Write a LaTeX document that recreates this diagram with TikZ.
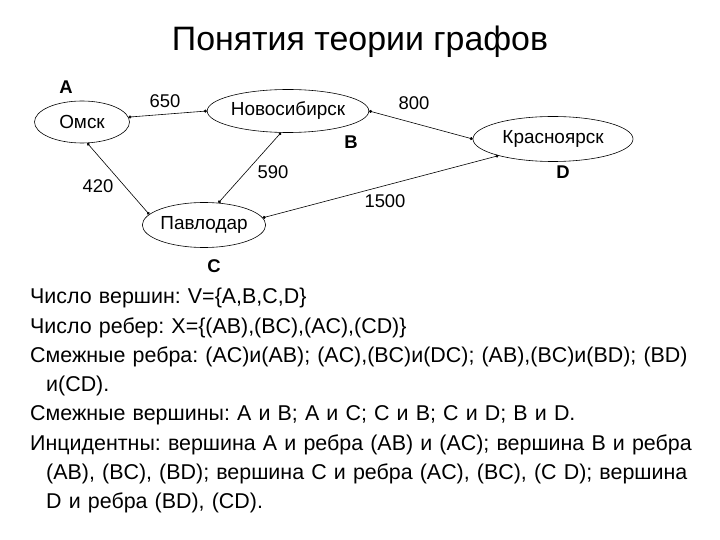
\documentclass[tikz,border=0pt]{standalone}
\usepackage{fontspec}
\setmainfont{Liberation Sans}
\usepackage{tikz}
\usetikzlibrary{arrows.meta,shapes.geometric}
\tikzset{
  citynode/.style={
    ellipse, draw=black, semithick, inner sep=0pt,
    font=\fontsize{19}{22}\selectfont
  },
  roadline/.style={
    {Circle[length=3bp]}-{Circle[length=3bp]}, semithick, color=black
  },
  weightlabel/.style={
    font=\fontsize{18.5}{22}\selectfont, inner sep=0pt
  },
  vertexlabel/.style={
    font=\fontsize{18.5}{22}\selectfont\bfseries, inner sep=0pt
  },
}

\begin{document}
\frenchspacing
\begin{tikzpicture}[x=1bp,y=-1bp]
  \useasboundingbox (0,0) rectangle (720,540);
  \node[font=\fontsize{34}{38}\selectfont, anchor=base] (title) at (360,51) {Понятия теории графов};
  % vertices
  \node[citynode, minimum width=95bp, minimum height=42bp] (om) at (82,122) {Омск};
  \node[citynode, minimum width=139bp, minimum height=43bp] (nsk) at (288,111) {Новосибирск};
  \node[citynode, minimum width=122bp, minimum height=45bp] (pvl) at (204,225) {Павлодар};
  \node[citynode, minimum width=160bp, minimum height=45bp] (krs) at (553,139) {Красноярск};
  \node[vertexlabel] (la) at (66,87) {A};
  \node[vertexlabel] (lb) at (351,142) {B};
  \node[vertexlabel] (lc) at (214,266) {C};
  \node[vertexlabel] (ld) at (563,172) {D};
  % edges
  \draw[roadline] (om.6) -- (nsk.180);
  \draw[roadline] (om.-76) -- (pvl.169);
  \draw[roadline] (nsk.-108) -- (pvl.57);
  \draw[roadline] (nsk.0) -- (krs.180);
  \draw[roadline] (pvl.7) -- (krs.197);
  \node[weightlabel] (w1) at (165,101) {650};
  \node[weightlabel] (w2) at (414,103) {800};
  \node[weightlabel] (w3) at (273,172) {590};
  \node[weightlabel] (w4) at (98,186) {420};
  \node[weightlabel] (w5) at (385,201) {1500};
  % text
  \node[anchor=north west, inner sep=0pt, text width=690bp, align=left,
    font=\fontsize{21.5}{29.4}\selectfont] (txt) at (30,288) {%
    \hangindent=16bp\hangafter=1 Число вершин: V=\{A,B,C,D\}\par
    \hangindent=16bp\hangafter=1 Число ребер: X=\{(AB),(BC),(AC),(CD)\}\par
    \hangindent=16bp\hangafter=1 Смежные ребра: (AC)и(AB); (AC),(BC)и(DC); (AB),(BC)и(BD); (BD)\newline и(CD).\par
    \hangindent=16bp\hangafter=1 Смежные вершины: A и B; A и C; C и B; C и D; B и D.\par
    \hangindent=16bp\hangafter=1 Инцидентны: вершина A и ребра (AB) и (AC); вершина B и ребра\newline (AB), (BC), (BD); вершина C и ребра (AC), (BC), (C D); вершина\newline D и ребра (BD), (CD).\par};
\end{tikzpicture}
\end{document}
